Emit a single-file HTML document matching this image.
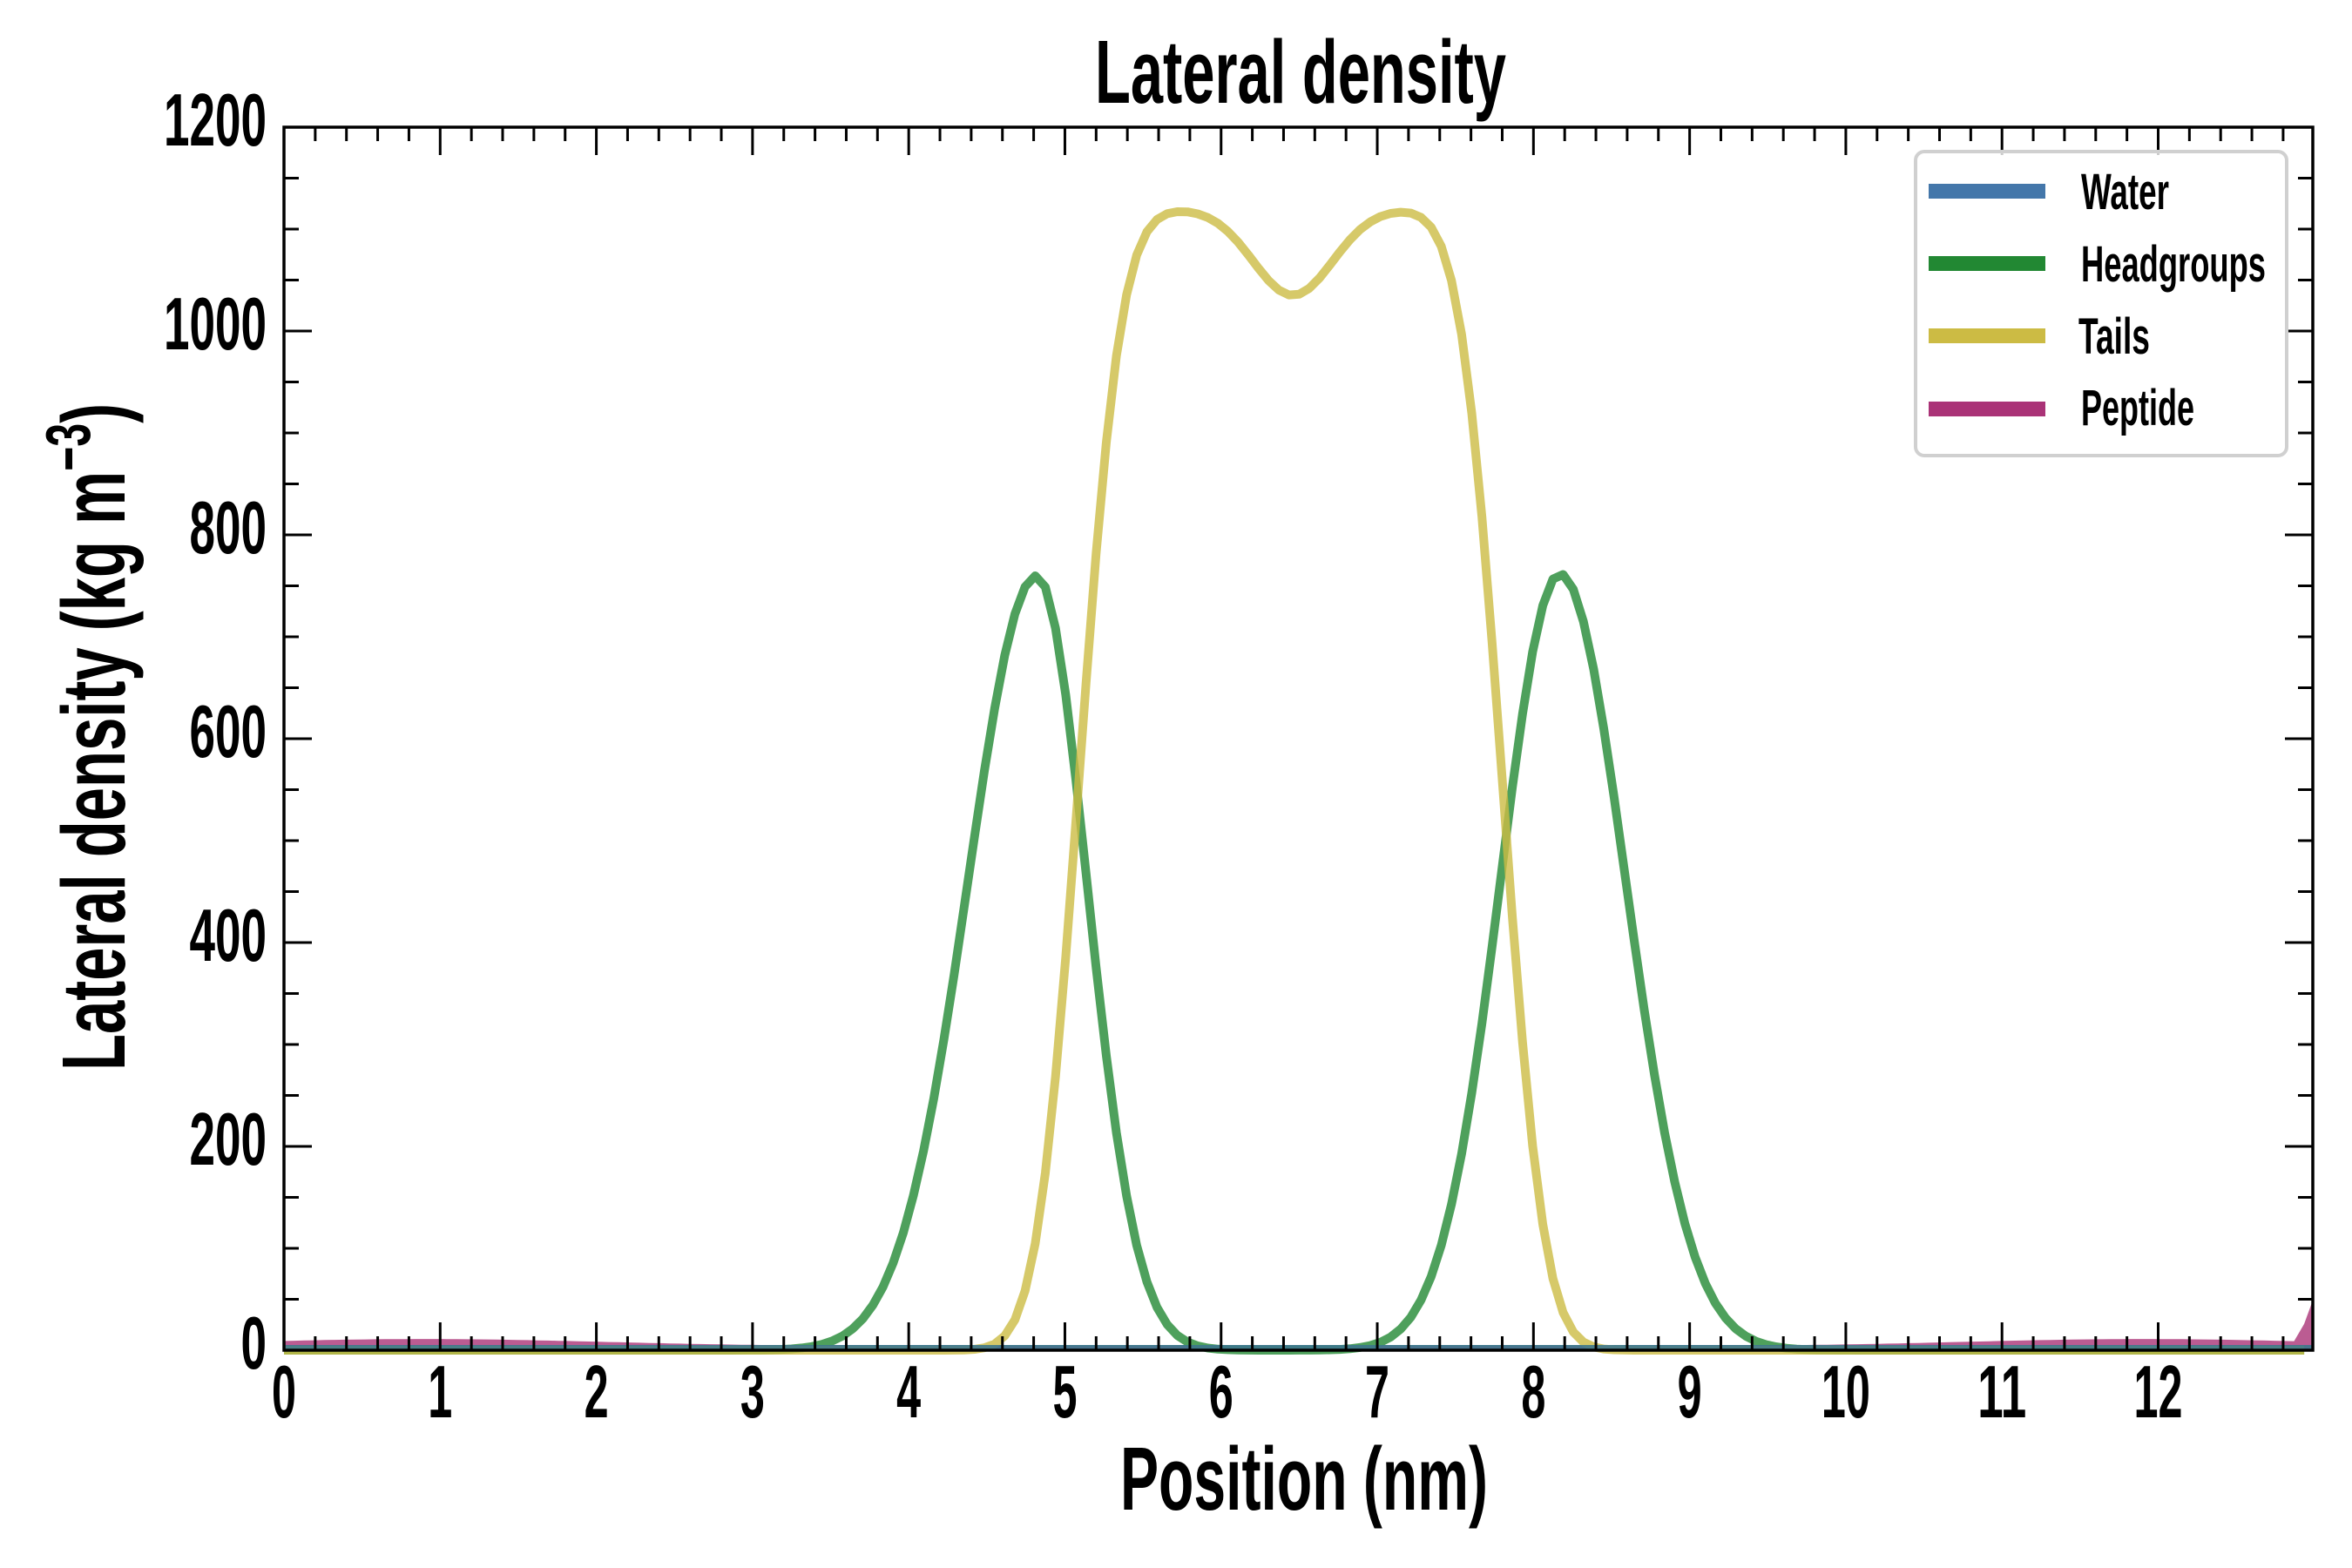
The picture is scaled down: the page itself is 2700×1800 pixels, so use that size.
<!DOCTYPE html>
<html><head><meta charset="utf-8">
<style>
html,body{margin:0;padding:0;background:#fff;}
svg{display:block;}
text{font-family:"Liberation Sans",sans-serif;font-weight:bold;fill:#000;}
</style></head>
<body>
<svg id="s" width="2700" height="1800" xmlns="http://www.w3.org/2000/svg">
<rect width="2700" height="1800" fill="#fff"/>
<g id="curves"></g>
<g id="axes"></g>
<text x="1493" y="118" font-size="103" text-anchor="middle" textLength="472" lengthAdjust="spacingAndGlyphs">Lateral density</text>
<text x="1497" y="1733" font-size="103" text-anchor="middle" textLength="422" lengthAdjust="spacingAndGlyphs">Position (nm)</text>
<text transform="translate(143,846) rotate(-90)" font-size="103" text-anchor="middle" textLength="766" lengthAdjust="spacingAndGlyphs">Lateral density (kg m<tspan font-size="72" dy="-40">−3</tspan><tspan dy="40">)</tspan></text>
<g id="legend">
<rect x="2199" y="174" width="426" height="349" rx="10" fill="#fff" fill-opacity="0.8" stroke="#d0d0d0" stroke-width="4"/>
<rect x="2214" y="211" width="134" height="17" fill="#4477aa"/>
<rect x="2214" y="294" width="134" height="17" fill="#228833"/>
<rect x="2214" y="377" width="134" height="17" fill="#ccbb44"/>
<rect x="2214" y="461" width="134" height="17" fill="#aa3377"/>
<text x="2389" y="240" font-size="58" textLength="101" lengthAdjust="spacingAndGlyphs">Water</text>
<text x="2389" y="323" font-size="58" textLength="212" lengthAdjust="spacingAndGlyphs">Headgroups</text>
<text x="2386" y="406" font-size="58" textLength="82" lengthAdjust="spacingAndGlyphs">Tails</text>
<text x="2389" y="488" font-size="58" textLength="130" lengthAdjust="spacingAndGlyphs">Peptide</text>
</g>
</svg>
<script>
(function(){
var L=326,R=2655,T=146,B=1550,XMAX=12.99;
var sx=(R-L)/XMAX, sy=(B-T)/1200;
function X(v){return L+v*sx;} function Y(v){return B-v*sy;}
function erf(x){var s=x<0?-1:1;x=Math.abs(x);var t=1/(1+0.3275911*x);
var y=1-(((((1.061405429*t-1.453152027)*t)+1.421413741)*t-0.284496736)*t+0.254829592)*t*Math.exp(-x*x);return s*y;}
function head(x){
 var a=x<4.82?Math.exp(-Math.pow((x-4.82)/0.44,2)/2):Math.exp(-Math.pow((x-4.82)/0.32,2)/2);
 var b=x<8.17?Math.exp(-Math.pow((x-8.17)/0.38,2)/2):Math.exp(-Math.pow((x-8.17)/0.42,2)/2);
 return 760*a+762*b;}
function tail(x){
 var e=(1+erf((x-5.09)/0.3))*(1+erf((7.80-x)/0.3))/4;
 var top=1120-85*Math.exp(-Math.pow((x-6.46)/0.36,2));
 return e*top;}
function pep(x){
 if(x>12.9) return 11+(x-12.9)/0.09*38;
 return 4+7*Math.exp(-Math.pow((x-0.9)/1.6,2))+7*Math.exp(-Math.pow((x-11.9)/1.6,2));}
var ns="http://www.w3.org/2000/svg";
var cg=document.getElementById('curves'), ag=document.getElementById('axes');
function el(n,at,p){var e=document.createElementNS(ns,n);for(var k in at)e.setAttribute(k,at[k]);(p||cg).appendChild(e);return e;}
function path(f,step){var d='';for(var x=0;x<=XMAX+1e-9;x+=step){d+=(d?'L':'M')+X(x).toFixed(1)+','+Y(f(x)).toFixed(1);}return d;}
el('rect',{x:L,y:B-6,width:R-L,height:6,fill:'#3f7a8f'});
var d='M'+X(0)+','+Y(0);
for(var x=0;x<=XMAX+1e-9;x+=0.065){d+='L'+X(x).toFixed(1)+','+Y(pep(x)).toFixed(1);}
d+='L'+X(XMAX)+','+Y(pep(XMAX))+'L'+X(XMAX)+','+Y(0)+'Z';
el('path',{d:d,fill:'#aa3377','fill-opacity':'0.8'});
el('path',{d:path(head,0.065),fill:'none',stroke:'#228833','stroke-opacity':'0.8','stroke-width':10,'stroke-linejoin':'round'});
el('path',{d:path(tail,0.065),fill:'none',stroke:'#ccbb44','stroke-opacity':'0.8','stroke-width':10,'stroke-linejoin':'round'});
el('rect',{x:L,y:B-6,width:R-L,height:6,fill:'#3f7a8f','fill-opacity':'0.9'});
var i,v,t;
for(i=0;i<=64;i++){v=i*0.2;if(v>XMAX)break;var maj=(i%5==0);var len=maj?32:16;var xx=X(v);
 el('line',{x1:xx,y1:B,x2:xx,y2:B-len,stroke:'#000','stroke-width':3},ag);
 el('line',{x1:xx,y1:T,x2:xx,y2:T+len,stroke:'#000','stroke-width':3},ag);
 if(maj){t=el('text',{x:xx,y:1627,'font-size':85,'text-anchor':'middle',textLength:(String(i/5).length*28),lengthAdjust:'spacingAndGlyphs'},ag);t.textContent=String(i/5);}
}
for(i=0;i<=24;i++){v=i*50;var maj=(i%4==0);var len=maj?32:17;var yy=Y(v);
 el('line',{x1:L,y1:yy,x2:L+len,y2:yy,stroke:'#000','stroke-width':3},ag);
 el('line',{x1:R,y1:yy,x2:R-len,y2:yy,stroke:'#000','stroke-width':3},ag);
 if(maj){var s=String(v);t=el('text',{x:306,y:yy+21,'font-size':85,'text-anchor':'end',textLength:(s.length*29.5),lengthAdjust:'spacingAndGlyphs'},ag);t.textContent=s;}
}
el('rect',{x:L,y:T,width:R-L,height:B-T,fill:'none',stroke:'#000','stroke-width':3.5},ag);
})();
</script>
</body></html>
